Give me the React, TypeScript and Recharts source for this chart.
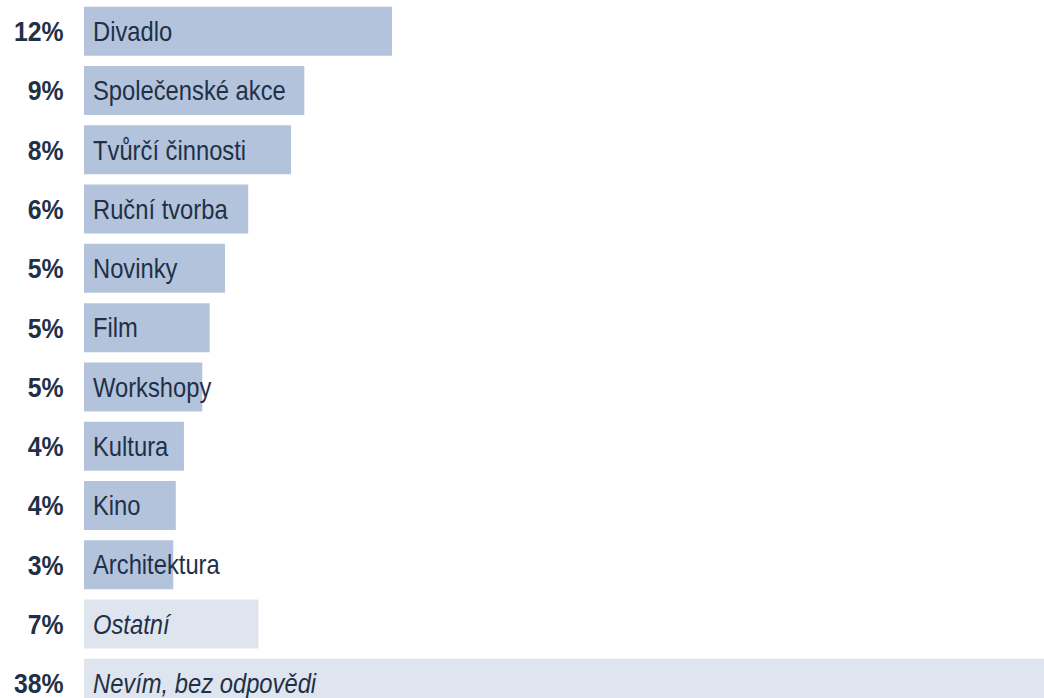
import React from "react";
import { BarChart, Bar, XAxis, YAxis, Cell, LabelList } from "recharts";

const categories = [
  "Divadlo",
  "Společenské akce",
  "Tvůrčí činnosti",
  "Ruční tvorba",
  "Novinky",
  "Film",
  "Workshopy",
  "Kultura",
  "Kino",
  "Architektura",
  "Ostatní",
  "Nevím, bez odpovědi",
];
const values = [12.08, 8.64, 8.12, 6.44, 5.53, 4.93, 4.64, 3.92, 3.6, 3.5, 6.84, 38];
const percentLabels = ["12%", "9%", "8%", "6%", "5%", "5%", "5%", "4%", "4%", "3%", "7%", "38%"];
const secondary = [false, false, false, false, false, false, false, false, false, false, true, true];

const data = categories.map((name, i) => ({
  name,
  value: values[i],
  pct: percentLabels[i],
  secondary: secondary[i],
}));

const TEXT = "#1f3047";
const FONT = "'Liberation Sans', Arial, Helvetica, sans-serif";

const renderLabel = (props: any) => {
  const { x, y, height, index } = props;
  const d = data[index];
  const cy = Number(y) + Number(height) / 2;
  const bx = Number(x);
  return (
    <g>
      <text
        transform={`translate(${bx - 20.5},${cy}) scale(0.87,1)`}
        x={0}
        y={0}
        dy="0.35em"
        textAnchor="end"
        fontFamily={FONT}
        fontWeight="bold"
        fontSize={28.5}
        fill={TEXT}
      >
        {d.pct}
      </text>
      <text
        transform={`translate(${bx + 9},${cy}) scale(0.88,1)`}
        x={0}
        y={0}
        dy="0.36em"
        textAnchor="start"
        fontFamily={FONT}
        fontStyle={d.secondary ? "italic" : "normal"}
        fontSize={27}
        fill={TEXT}
      >
        {d.name}
      </text>
    </g>
  );
};

export default function App() {
  return (
    <div
      style={{
        position: "absolute",
        left: 0,
        top: 0,
        width: 1044,
        height: 698,
        overflow: "hidden",
        background: "#ffffff",
      }}
    >
      <BarChart
        layout="vertical"
        width={1104}
        height={713}
        data={data}
        margin={{ top: 1.6, right: 0, bottom: 0, left: 84 }}
        barCategoryGap={5.12}
      >
        <XAxis type="number" domain={[0, 40]} hide />
        <YAxis type="category" dataKey="name" hide />
        <Bar dataKey="value" isAnimationActive={false}>
          {data.map((d, i) => (
            <Cell key={i} fill={d.secondary ? "#dfe5ef" : "#b3c3dc"} />
          ))}
          <LabelList dataKey="name" content={renderLabel} />
        </Bar>
      </BarChart>
    </div>
  );
}
